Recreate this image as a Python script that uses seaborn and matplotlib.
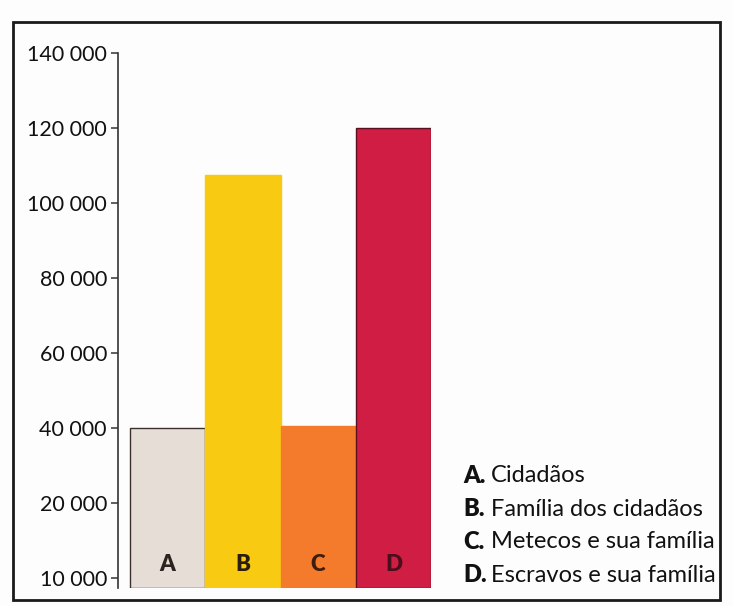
import matplotlib
matplotlib.use("Agg")
import matplotlib.pyplot as plt
import seaborn as sns
import pandas as pd
from matplotlib.patches import Rectangle

# dados
categorias = ["A", "B", "C", "D"]
populacao = [40000, 107500, 40400, 120000]
descricoes = ["Cidadãos", "Família dos cidadãos", "Metecos e sua família", "Escravos e sua família"]
ticks = [0, 20000, 40000, 60000, 80000, 100000, 120000, 140000]
tick_labels = ["10 000", "20 000", "40 000", "60 000", "80 000", "100 000", "120 000", "140 000"]

cores = ["#e6ddd6", "#f8cb12", "#f47a2c", "#d01d43"]
cores_borda = ["#3a302c", "#f8cb12", "#f47a2c", "#5a1020"]
cores_letra = ["#2a2320", "#2a1d0e", "#3e1c0e", "#4a0f1c"]

df = pd.DataFrame({"cat": categorias, "pop": populacao})

sns.set_style("white")
plt.rcParams["font.family"] = ["Lato", "DejaVu Sans"]

W, H = 733, 606
fig = plt.figure(figsize=(W / 100, H / 100), dpi=100)
fig.patch.set_facecolor("#fdfdfd")

# eixo em pixels
left, right, top, bottom = 118, 431, 53, 588
ax = fig.add_axes([left / W, 1 - bottom / H, (right - left) / W, (bottom - top) / H])
ax.set_facecolor("none")

sns.barplot(data=df, x="cat", y="pop", hue="cat", palette=cores, width=1.0,
            legend=False, ax=ax, saturation=1)

ymin = -2700
ax.set_ylim(ymin, 140000)
ax.set_xlim(-0.66, 3.5)

for p, ec in zip(ax.patches, cores_borda):
    h = p.get_height()
    p.set_y(ymin)
    p.set_height(h - ymin)
    p.set_edgecolor(ec)
    p.set_linewidth(1.0)

for i, (c, lc) in enumerate(zip(categorias, cores_letra)):
    ax.text(i, 3600, c, ha="center", va="center", fontsize=16, fontweight="heavy", color=lc)

ax.set_yticks(ticks)
ax.set_yticklabels(tick_labels, fontsize=15.5, color="#111111")
ax.set_xticks([])
ax.set_xlabel("")
ax.set_ylabel("")
ax.tick_params(axis="y", which="both", left=True, length=5, width=1.1, color="#333333", pad=3)
for s in ["top", "right", "bottom"]:
    ax.spines[s].set_visible(False)
ax.spines["left"].set_color("#333333")
ax.spines["left"].set_linewidth(1.2)

# legenda em texto
ys = [476, 509, 542, 575]
for c, d, y in zip(categorias, descricoes, ys):
    fig.text(463 / W, 1 - y / H, c + ".", fontsize=17, fontweight="heavy", color="#111111",
             ha="left", va="center")
    fig.text(491 / W, 1 - y / H, d, fontsize=17, color="#111111", ha="left", va="center")

# moldura externa
fig.patches.append(Rectangle((13 / W, 1 - 600 / H), (720 - 13) / W, (600 - 22) / H,
                             transform=fig.transFigure, fill=False, edgecolor="#1a1a1a",
                             linewidth=2))

fig.savefig("out.png", dpi=100, facecolor=fig.get_facecolor())
